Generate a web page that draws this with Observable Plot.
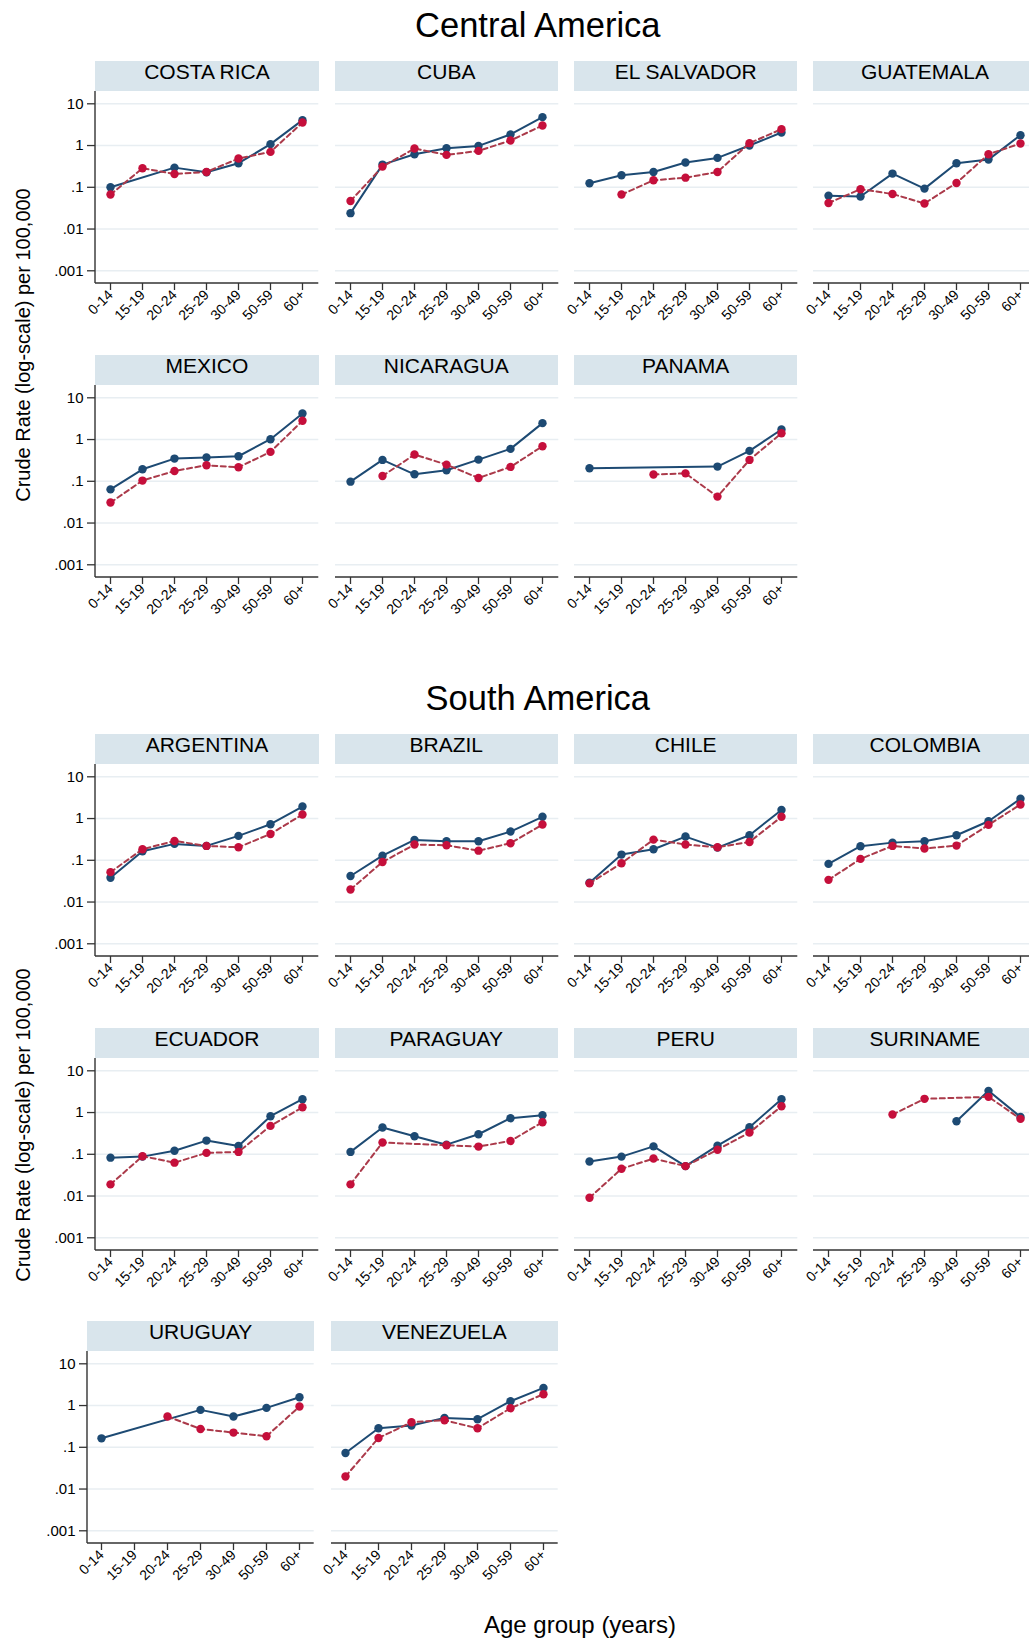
<!DOCTYPE html>
<html><head><meta charset="utf-8">
<script src="https://cdn.jsdelivr.net/npm/d3@7"></script>
<script src="https://cdn.jsdelivr.net/npm/@observablehq/plot@0.6"></script>
<style>
body{margin:0;background:#fff;}
#chart{position:relative;width:1029px;height:1640px;overflow:hidden;font-family:"Liberation Sans",Arial,sans-serif;background:#fff;color:#000;}
.hdr{position:absolute;background:#d9e5ec;text-align:center;font-size:21px;line-height:21px;height:29.5px;white-space:nowrap;}
.ttl{position:absolute;font-size:34.5px;line-height:34.5px;width:600px;text-align:center;white-space:nowrap;}
.ytitle{position:absolute;font-size:20px;line-height:20px;white-space:nowrap;transform:translate(-50%,-50%) rotate(-90deg);}
.xtitle{position:absolute;font-size:24px;line-height:24px;width:400px;text-align:center;white-space:nowrap;}
</style></head><body><div id="chart"></div>
<script>
// ---------------- data ----------------
const ageGroups = ["0-14","15-19","20-24","25-29","30-49","50-59","60+"];
const yTickValues = [0.001, 0.01, 0.1, 1, 10];
const yTickLabels = [".001", ".01", ".1", "1", "10"];
const centralCountries = ["COSTA RICA","CUBA","EL SALVADOR","GUATEMALA","MEXICO","NICARAGUA","PANAMA"];
const southCountries = ["ARGENTINA","BRAZIL","CHILE","COLOMBIA","ECUADOR","PARAGUAY","PERU","SURINAME","URUGUAY","VENEZUELA"];

const costaRicaSolid  = [0.100, null, 0.296, 0.229, 0.377, 1.08, 4.06];
const costaRicaDashed = [0.067, 0.286, 0.209, 0.233, 0.488, 0.705, 3.56];
const cubaSolid       = [0.024, 0.350, 0.620, 0.863, 0.98, 1.84, 4.79];
const cubaDashed      = [0.047, 0.313, 0.847, 0.597, 0.745, 1.32, 3.02];
const elSalvadorSolid = [0.125, 0.194, 0.233, 0.391, 0.506, 1.00, 2.05];
const elSalvadorDashed= [null, 0.067, 0.147, 0.170, 0.233, 1.14, 2.47];
const guatemalaSolid  = [0.063, 0.060, 0.213, 0.093, 0.377, 0.461, 1.77];
const guatemalaDashed = [0.042, 0.090, 0.069, 0.041, 0.127, 0.620, 1.12];
const mexicoSolid     = [0.064, 0.194, 0.350, 0.370, 0.398, 1.02, 4.21];
const mexicoDashed    = [0.031, 0.104, 0.177, 0.242, 0.217, 0.506, 2.81];
const nicaraguaSolid  = [0.098, 0.325, 0.147, 0.184, 0.331, 0.597, 2.47];
const nicaraguaDashed = [null, 0.134, 0.437, 0.251, 0.120, 0.221, 0.692];
const panamaSolid     = [0.205, null, null, null, 0.225, 0.535, 1.74];
const panamaDashed    = [null, null, 0.145, 0.155, 0.043, 0.325, 1.42];

const argentinaSolid  = [0.038, 0.164, 0.247, 0.221, 0.384, 0.731, 1.94];
const argentinaDashed = [0.052, 0.184, 0.291, 0.221, 0.205, 0.428, 1.25];
const brazilSolid     = [0.042, 0.129, 0.308, 0.286, 0.286, 0.488, 1.10];
const brazilDashed    = [0.020, 0.091, 0.238, 0.229, 0.170, 0.256, 0.718];
const chileSolid      = [0.029, 0.137, 0.184, 0.370, 0.201, 0.398, 1.61];
const chileDashed     = [0.028, 0.085, 0.313, 0.238, 0.205, 0.275, 1.10];
const colombiaSolid   = [0.082, 0.217, 0.265, 0.286, 0.398, 0.863, 2.97];
const colombiaDashed  = [0.034, 0.108, 0.221, 0.191, 0.225, 0.705, 2.17];
const ecuadorSolid    = [0.083, 0.088, 0.122, 0.213, 0.158, 0.817, 2.09];
const ecuadorDashed   = [0.019, 0.090, 0.063, 0.108, 0.114, 0.479, 1.34];
const paraguaySolid   = [0.114, 0.437, 0.270, 0.170, 0.302, 0.731, 0.863];
const paraguayDashed  = [0.019, 0.191, null, 0.165, 0.153, 0.209, 0.586];
const peruSolid       = [0.067, 0.088, 0.155, 0.052, 0.161, 0.445, 2.09];
const peruDashed      = [0.0091, 0.045, 0.079, 0.052, 0.129, 0.331, 1.42];
const surinameSolid   = [null, null, null, null, 0.620, 3.31, 0.787];
const surinameDashed  = [null, null, 0.895, 2.13, null, 2.38, 0.705];
const uruguaySolid    = [0.164, null, null, 0.787, 0.545, 0.879, 1.58];
const uruguayDashed   = [null, null, 0.545, 0.275, 0.225, 0.184, 0.946];
const venezuelaSolid  = [0.073, 0.286, 0.331, 0.506, 0.470, 1.27, 2.65];
const venezuelaDashed = [0.020, 0.167, 0.398, 0.445, 0.286, 0.863, 1.87];

const seriesByCountry = new Map([
  ["COSTA RICA", [costaRicaSolid, costaRicaDashed]],
  ["CUBA", [cubaSolid, cubaDashed]],
  ["EL SALVADOR", [elSalvadorSolid, elSalvadorDashed]],
  ["GUATEMALA", [guatemalaSolid, guatemalaDashed]],
  ["MEXICO", [mexicoSolid, mexicoDashed]],
  ["NICARAGUA", [nicaraguaSolid, nicaraguaDashed]],
  ["PANAMA", [panamaSolid, panamaDashed]],
  ["ARGENTINA", [argentinaSolid, argentinaDashed]],
  ["BRAZIL", [brazilSolid, brazilDashed]],
  ["CHILE", [chileSolid, chileDashed]],
  ["COLOMBIA", [colombiaSolid, colombiaDashed]],
  ["ECUADOR", [ecuadorSolid, ecuadorDashed]],
  ["PARAGUAY", [paraguaySolid, paraguayDashed]],
  ["PERU", [peruSolid, peruDashed]],
  ["SURINAME", [surinameSolid, surinameDashed]],
  ["URUGUAY", [uruguaySolid, uruguayDashed]],
  ["VENEZUELA", [venezuelaSolid, venezuelaDashed]]
]);

// ---------------- style / layout ----------------
const BLUE = "#1d4a73", RED_DOT = "#c50f3b", RED_LINE = "#ab3a4a";
const AXIS = "#333", GRID = "#e8eef2";
const chart = document.getElementById("chart");

function axisLines(showLeft) {
  return (index, scales, values, dim) => {
    const g = d3.create("svg:g").attr("stroke", AXIS).attr("stroke-width", 1.4);
    const bottom = dim.height - dim.marginBottom;
    g.append("line").attr("x1", dim.marginLeft).attr("x2", dim.width - dim.marginRight)
      .attr("y1", bottom).attr("y2", bottom);
    if (showLeft) g.append("line").attr("x1", dim.marginLeft).attr("x2", dim.marginLeft)
      .attr("y1", dim.marginTop).attr("y2", bottom);
    return g.node();
  };
}

function addDiv(cls, text, style) {
  const d = document.createElement("div");
  d.className = cls; d.textContent = text;
  Object.assign(d.style, style);
  chart.appendChild(d);
  return d;
}

function panel(country, axisX, headerTop, W, showY) {
  const [solid, dashed] = seriesByCountry.get(country);
  const hdrH = 29.5, plotH = 192, mL = 60, mB = 64;
  addDiv("hdr", country, {left: axisX + "px", top: headerTop + "px", width: W + "px"});
  const rows = ageGroups.map((a, i) => ({age: a, solid: solid[i], dashed: dashed[i]}));
  const sRows = rows.filter(d => d.solid != null);
  const dRows = rows.filter(d => d.dashed != null);
  const svg = Plot.plot({
    width: mL + W, height: plotH + mB,
    marginLeft: mL, marginRight: 0, marginTop: 0, marginBottom: mB,
    style: {background: "transparent", overflow: "visible", fontFamily: "'Liberation Sans', Arial, sans-serif", color: "#000", maxWidth: "none"},
    x: {type: "point", domain: ageGroups, padding: 0, insetLeft: 12.7, insetRight: 13.6, axis: null},
    y: {type: "log", domain: [0.001, 10], insetTop: 12.3, insetBottom: 12.7, axis: null},
    marks: [
      Plot.ruleY(yTickValues, {stroke: GRID, strokeWidth: 1.6}),
      axisLines(showY),
      Plot.axisX({tickRotate: -45, tickSize: 7, tickPadding: 2, fontSize: 14, label: null, stroke: AXIS, strokeWidth: 1.3}),
      showY ? Plot.axisY(yTickValues, {tickFormat: d => yTickLabels[yTickValues.indexOf(d)], tickSize: 8, tickPadding: 4, fontSize: 15, label: null, stroke: AXIS, strokeWidth: 1.3}) : null,
      Plot.line(sRows, {x: "age", y: "solid", stroke: BLUE, strokeWidth: 2}),
      Plot.dot(sRows, {x: "age", y: "solid", fill: BLUE, r: 4.2}),
      Plot.line(dRows, {x: "age", y: "dashed", stroke: RED_LINE, strokeWidth: 2, strokeDasharray: "5,3.5"}),
      Plot.dot(dRows, {x: "age", y: "dashed", fill: RED_DOT, r: 4.2})
    ]
  });
  svg.style.position = "absolute";
  svg.style.left = (axisX - mL) + "px";
  svg.style.top = (headerTop + hdrH) + "px";
  chart.appendChild(svg);
}

const colsWide = [95.3, 334.6, 574, 813.3], wWide = 223.3;
const colsLast = [87.3, 331], wLast = 226.7;
const rowTops = [61, 355, 734, 1028.3, 1321];

centralCountries.forEach((c, i) => panel(c, colsWide[i % 4], rowTops[Math.floor(i / 4)], wWide, i % 4 === 0));
southCountries.forEach((c, i) => {
  const r = Math.floor(i / 4);
  if (r < 2) panel(c, colsWide[i % 4], rowTops[2 + r], wWide, i % 4 === 0);
  else panel(c, colsLast[i % 4], rowTops[4], wLast, i % 4 === 0);
});

addDiv("ttl", "Central America", {left: (537.8 - 300) + "px", top: "7.5px"});
addDiv("ttl", "South America", {left: (537.8 - 300) + "px", top: "681px"});
addDiv("ytitle", "Crude Rate (log-scale) per 100,000", {left: "23px", top: "345px"});
addDiv("ytitle", "Crude Rate (log-scale) per 100,000", {left: "23px", top: "1125px"});
addDiv("xtitle", "Age group (years)", {left: (580 - 200) + "px", top: "1612.5px"});
</script></body></html>
